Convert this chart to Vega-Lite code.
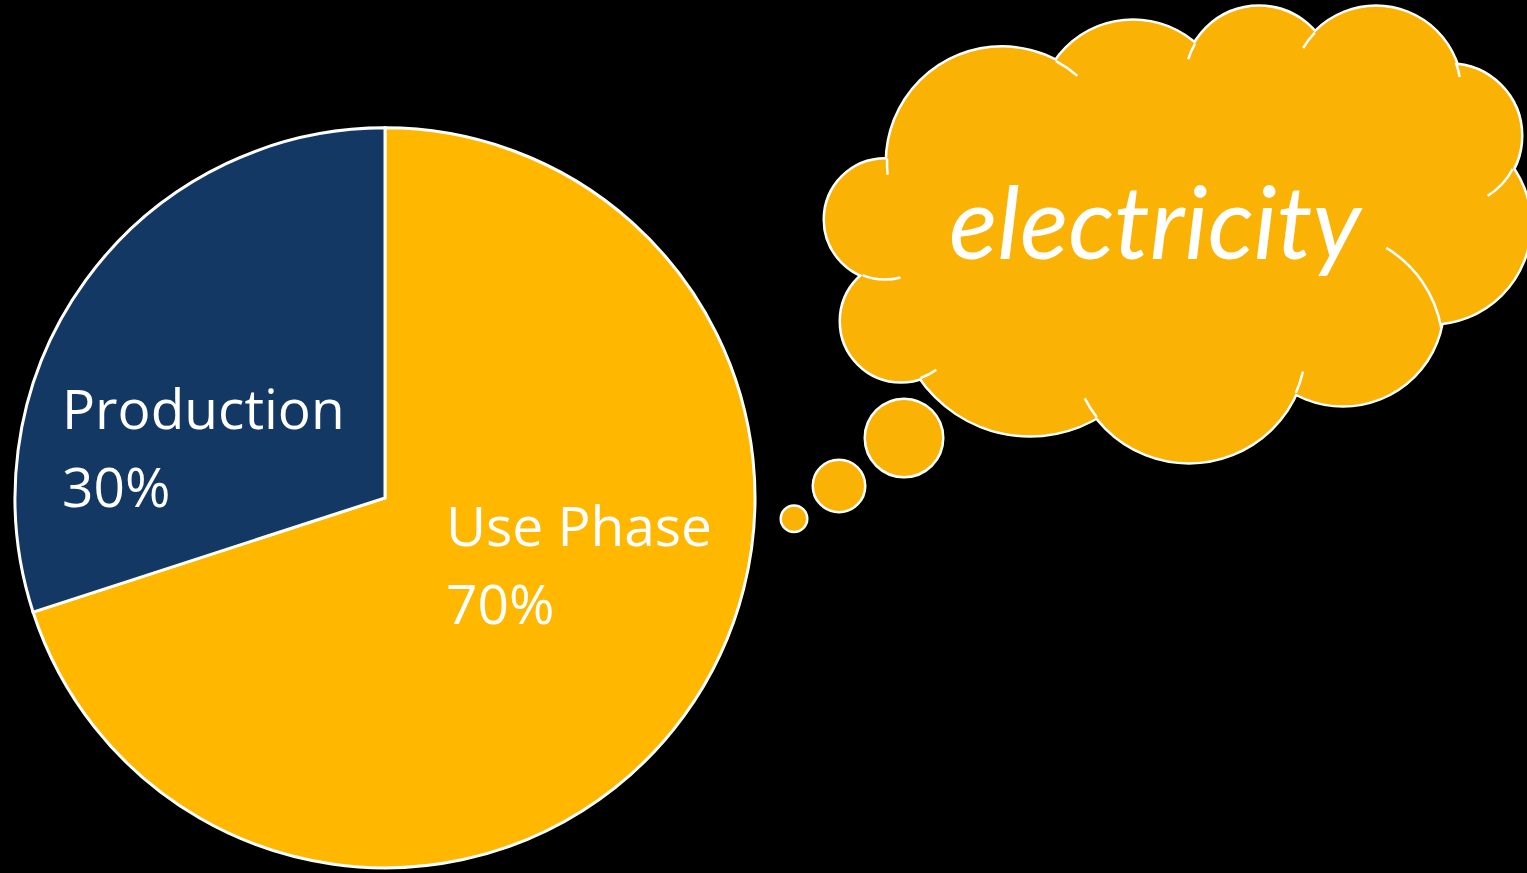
{
  "$schema": "https://vega.github.io/schema/vega-lite/v6.json",
  "width": 1527,
  "height": 873,
  "autosize": {"type": "fit", "contains": "padding"},
  "padding": 0,
  "background": "#000000",
  "config": {"view": {"stroke": null}},
  "datasets": {
    "pie": [
      {"category": "Use Phase", "value": 0.7},
      {"category": "Production", "value": 0.3}
    ],
    "cloud": [
      {"part": "lobe", "cx": 1002, "cy": 163, "r": 115},
      {"part": "lobe", "cx": 1133, "cy": 115, "r": 94},
      {"part": "lobe", "cx": 1259, "cy": 81, "r": 74},
      {"part": "lobe", "cx": 1376, "cy": 92, "r": 85},
      {"part": "lobe", "cx": 1450, "cy": 136, "r": 71},
      {"part": "lobe", "cx": 1431, "cy": 225, "r": 99},
      {"part": "lobe", "cx": 1343, "cy": 306, "r": 100},
      {"part": "lobe", "cx": 1189, "cy": 346, "r": 117},
      {"part": "lobe", "cx": 1030, "cy": 303, "r": 133},
      {"part": "lobe", "cx": 901, "cy": 322, "r": 60},
      {"part": "lobe", "cx": 885, "cy": 220, "r": 60},
      {"part": "lobe", "cx": 904, "cy": 439, "r": 38},
      {"part": "lobe", "cx": 839, "cy": 487, "r": 25},
      {"part": "lobe", "cx": 794, "cy": 520, "r": 12},
      {"part": "fill", "cx": 1180, "cy": 220, "r": 160},
      {"part": "fill", "cx": 1330, "cy": 180, "r": 100},
      {"part": "fill", "cx": 960, "cy": 270, "r": 90}
    ],
    "creases": [
      {"cx": 1326, "cy": 349, "r": 117, "a0": 31, "a1": 80},
      {"cx": 885, "cy": 220, "r": 60, "a0": 165, "a1": 202},
      {"cx": 1002, "cy": 163, "r": 115, "a0": 264, "a1": 272},
      {"cx": 1002, "cy": 163, "r": 115, "a0": 28, "a1": 41},
      {"cx": 1259, "cy": 81, "r": 74, "a0": 287, "a1": 300},
      {"cx": 1376, "cy": 92, "r": 85, "a0": 301, "a1": 314},
      {"cx": 1376, "cy": 92, "r": 85, "a0": 70, "a1": 80},
      {"cx": 1450, "cy": 136, "r": 71, "a0": 118, "a1": 148},
      {"cx": 1189, "cy": 346, "r": 117, "a0": 103, "a1": 114},
      {"cx": 1189, "cy": 346, "r": 117, "a0": 232, "a1": 243},
      {"cx": 901, "cy": 322, "r": 60, "a0": 144, "a1": 161}
    ],
    "caption": [{"word": "electricity"}]
  },
  "resolve": {"scale": {"theta": "independent"}},
  "layer": [
    {
      "data": {"name": "pie"},
      "mark": {"type": "arc", "radius": 370, "stroke": "#ffffff", "strokeWidth": 3},
      "encoding": {
        "x": {"datum": 385, "type": "quantitative", "scale": {"domain": [0, 1527], "nice": false, "zero": false}, "axis": null},
        "y": {"datum": 499, "type": "quantitative", "scale": {"domain": [0, 873], "nice": false, "zero": false, "reverse": true}, "axis": null},
        "theta": {"field": "value", "type": "quantitative", "stack": true},
        "order": {"field": "value", "sort": "descending"},
        "color": {"field": "category", "type": "nominal", "scale": {"domain": ["Use Phase", "Production"], "range": ["#FFB700", "#133864"]}, "legend": null}
      }
    },
    {
      "data": {"name": "cloud"},
      "transform": [{"filter": "datum.part === 'lobe'"}],
      "mark": {"type": "point", "shape": "circle", "filled": true, "fill": "#FAB305", "stroke": "#ffffff", "strokeWidth": 5, "opacity": 1, "clip": true},
      "encoding": {
        "x": {"field": "cx", "type": "quantitative", "scale": {"domain": [0, 1527], "nice": false, "zero": false}, "axis": null},
        "y": {"field": "cy", "type": "quantitative", "scale": {"domain": [0, 873], "nice": false, "zero": false, "reverse": true}, "axis": null},
        "size": {"field": "r", "type": "quantitative", "scale": {"type": "pow", "exponent": 2, "domain": [0, 500], "range": [0, 1000000]}, "legend": null}
      }
    },
    {
      "data": {"name": "cloud"},
      "mark": {"type": "point", "shape": "circle", "filled": true, "fill": "#FAB305", "strokeWidth": 0, "opacity": 1, "clip": true},
      "encoding": {
        "x": {"field": "cx", "type": "quantitative", "axis": null},
        "y": {"field": "cy", "type": "quantitative", "axis": null},
        "size": {"field": "r", "type": "quantitative", "legend": null}
      }
    },
    {
      "data": {"name": "creases"},
      "mark": {"type": "arc", "fillOpacity": 0, "stroke": "#ffffff", "strokeWidth": 2.5, "strokeCap": "butt"},
      "encoding": {
        "x": {"field": "cx", "type": "quantitative", "axis": null},
        "y": {"field": "cy", "type": "quantitative", "axis": null},
        "theta": {"field": "a0", "type": "quantitative", "stack": null, "scale": {"domain": [0, 360], "range": [0, 6.283185307179586]}},
        "theta2": {"field": "a1"},
        "radius": {"field": "r", "type": "quantitative", "scale": null},
        "radius2": {"field": "r"}
      }
    },
    {
      "data": {"name": "caption"},
      "mark": {"type": "text", "font": "Lato", "fontStyle": "italic", "fontSize": 101, "color": "#ffffff", "align": "center", "baseline": "alphabetic"},
      "encoding": {
        "x": {"datum": 1155, "type": "quantitative", "axis": null},
        "y": {"datum": 260, "type": "quantitative", "axis": null},
        "text": {"field": "word"}
      }
    },
    {
      "data": {"name": "pie"},
      "transform": [{"filter": "datum.category === 'Production'"}],
      "mark": {"type": "text", "font": "Open Sans", "fontSize": 55, "color": "#ffffff", "align": "left", "baseline": "alphabetic"},
      "encoding": {
        "x": {"datum": 62, "type": "quantitative", "axis": null},
        "y": {"datum": 430, "type": "quantitative", "axis": null},
        "text": {"field": "category"}
      }
    },
    {
      "data": {"name": "pie"},
      "transform": [{"filter": "datum.category === 'Production'"}],
      "mark": {"type": "text", "font": "Open Sans", "fontSize": 55, "color": "#ffffff", "align": "left", "baseline": "alphabetic"},
      "encoding": {
        "x": {"datum": 62, "type": "quantitative", "axis": null},
        "y": {"datum": 508, "type": "quantitative", "axis": null},
        "text": {"field": "value", "format": ".0%"}
      }
    },
    {
      "data": {"name": "pie"},
      "transform": [{"filter": "datum.category === 'Use Phase'"}],
      "mark": {"type": "text", "font": "Open Sans", "fontSize": 55, "color": "#ffffff", "align": "left", "baseline": "alphabetic"},
      "encoding": {
        "x": {"datum": 446, "type": "quantitative", "axis": null},
        "y": {"datum": 547, "type": "quantitative", "axis": null},
        "text": {"field": "category"}
      }
    },
    {
      "data": {"name": "pie"},
      "transform": [{"filter": "datum.category === 'Use Phase'"}],
      "mark": {"type": "text", "font": "Open Sans", "fontSize": 55, "color": "#ffffff", "align": "left", "baseline": "alphabetic"},
      "encoding": {
        "x": {"datum": 446, "type": "quantitative", "axis": null},
        "y": {"datum": 625, "type": "quantitative", "axis": null},
        "text": {"field": "value", "format": ".0%"}
      }
    }
  ]
}
